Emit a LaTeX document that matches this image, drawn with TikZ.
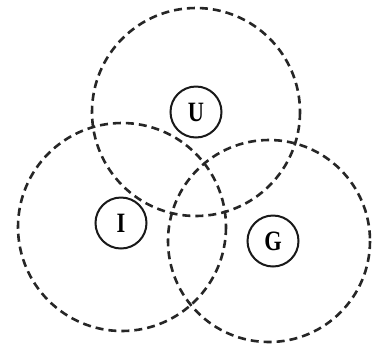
\documentclass[tikz,border=0pt]{standalone}
\usepackage{fontspec}
\setmainfont{Liberation Serif}
\begin{document}
\begin{tikzpicture}[x=1pt,y=-1pt,
  zone/.style={draw=black!85, line width=2.6pt, dash pattern=on 8pt off 5pt},
  letter/.style={circle, draw=black!90, line width=2pt, minimum size=51pt, inner sep=0pt, font=\bfseries\fontsize{28}{28}\selectfont}]
\useasboundingbox (0,0) rectangle (372,349);
\fill[white] (0,0) rectangle (372,349);
\draw[zone] (196,112) circle (104);
\draw[zone] (122,227) circle (104);
\draw[zone] (269,241) circle (101);
\node[letter] (U) at (196,112) {\scalebox{0.8}[1]{U}};
\node[letter] (I) at (121,223) {\scalebox{0.8}[1]{I}};
\node[letter] (G) at (273,241) {\scalebox{0.8}[1]{G}};
\end{tikzpicture}
\end{document}
